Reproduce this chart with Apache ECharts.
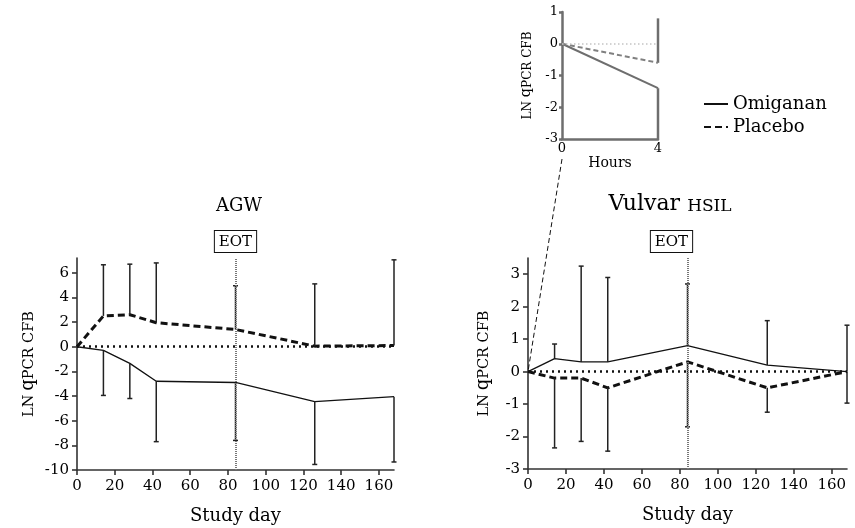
<!DOCTYPE html>
<html><head><meta charset="utf-8">
<script src="https://cdn.jsdelivr.net/npm/echarts@6/dist/echarts.min.js"></script>
<style>html,body{margin:0;padding:0;background:#fff}#c{width:855px;height:528px}</style>
</head><body><div id="c"></div>
<script>
// ---- data ----
const days = [0, 14, 28, 42, 84, 126, 168];
const xTicks = [0, 20, 40, 60, 80, 100, 120, 140, 160];
const agwTicks = [-10, -8, -6, -4, -2, 0, 2, 4, 6];
const vulTicks = [-3, -2, -1, 0, 1, 2, 3];
const agwOmi = [0, -0.3, -1.35, -2.8, -2.9, -4.45, -4.05];
const agwPla = [0, 2.5, 2.6, 1.95, 1.4, 0.05, 0.1];
const agwOmiLow = [null, -3.95, -4.2, -7.7, -7.6, -9.55, -9.35];
const agwPlaHigh = [null, 6.65, 6.7, 6.8, 4.95, 5.1, 7.05];
const vulOmi = [0, 0.4, 0.3, 0.3, 0.8, 0.2, 0];
const vulPla = [0, -0.2, -0.2, -0.5, 0.3, -0.5, 0];
const vulOmiHigh = [null, 0.85, 3.25, 2.9, 2.7, 1.57, 1.43];
const vulPlaLow = [null, -2.35, -2.15, -2.45, -1.7, -1.25, -0.97];
const hours = [0, 4];
const hourTicks = [0, 4];
const insetTicks = [-3, -2, -1, 0, 1];
const insetOmi = [0, -1.4];
const insetPla = [0, -0.6];
const insetOmiLow = [null, -3];
const insetPlaHigh = [null, 0.8];
const eotDay = 84;

const FONT = 'DejaVu Serif';
const TXT = '#000';
const pairs = (xs, ys) => xs.map((x, i) => [x, ys[i]]);
const errs = (xs, m, b) => xs.map((x, i) => [x, m[i], b[i]]).filter(d => d[2] !== null);

function errRender(color, width, cap) {
  return function (params, api) {
    const x = api.value(0), m = api.value(1), b = api.value(2);
    const p1 = api.coord([x, m]), p2 = api.coord([x, b]);
    const st = { stroke: color, lineWidth: width };
    const ch = [{ type: 'line', shape: { x1: p1[0], y1: p1[1], x2: p2[0], y2: p2[1] }, style: st }];
    if (cap) ch.push({ type: 'line', shape: { x1: p2[0] - cap, y1: p2[1], x2: p2[0] + cap, y2: p2[1] }, style: st });
    return { type: 'group', children: ch };
  };
}
function errSeries(xi, data, color, width, cap) {
  return { type: 'custom', xAxisIndex: xi, yAxisIndex: xi, data: data, renderItem: errRender(color, width, cap),
    encode: { x: 0, y: [1, 2] }, z: 4, silent: true, clip: false };
}

const AX = '#333';
function xAxis(gi, ticks, max, name, fs, nfs, gap, col, lw) {
  return { type: 'value', gridIndex: gi, min: 0, max: max, name: name, nameLocation: 'middle', nameGap: gap,
    nameTextStyle: { fontFamily: FONT, fontSize: nfs, color: TXT },
    axisLine: { onZero: false, lineStyle: { color: col, width: lw } },
    axisTick: { show: gi !== 2, length: 5, customValues: ticks, lineStyle: { color: col, width: lw } },
    axisLabel: { customValues: ticks, fontFamily: FONT, fontSize: fs, color: TXT, margin: gi === 2 ? 3 : 9 },
    splitLine: { show: false } };
}
function yAxis(gi, ticks, min, max, gap, cs, qs, col, lw, fs) {
  return { type: 'value', gridIndex: gi, min: min, max: max,
    name: '{c|LN} {q|q}{c|PCR CFB}', nameLocation: 'middle', nameGap: gap,
    nameTextStyle: { fontFamily: FONT, color: TXT, rich: {
      c: { fontFamily: FONT, fontSize: cs, color: TXT, verticalAlign: 'bottom' },
      q: { fontFamily: FONT, fontSize: qs, color: TXT, verticalAlign: 'bottom' } } },
    axisLine: { onZero: false, lineStyle: { color: col, width: lw } },
    axisTick: { length: gi === 2 ? 3 : 5, customValues: ticks, lineStyle: { color: col, width: lw } },
    axisLabel: { customValues: ticks, fontFamily: FONT, fontSize: fs, color: TXT, margin: gi === 2 ? 4 : 8 },
    splitLine: { show: false } };
}

const zeroLine = (col, w, dash) => ({ silent: true, symbol: 'none', label: { show: false },
  lineStyle: { color: col, width: w, type: dash }, data: [{ yAxis: 0 }] });
const eotLine = (off) => ({ silent: true, symbol: 'none',
  lineStyle: { color: '#777', width: 2, type: [1, 1] },
  label: { show: true, position: 'end', formatter: 'EOT', distance: 6, offset: off, fontFamily: FONT, fontSize: 15, color: TXT,
    borderColor: '#111', borderWidth: 1, padding: [4, 4, 2, 4], backgroundColor: '#fff' },
  data: [{ xAxis: eotDay }] });

const omiStyle = { color: '#111', width: 1.3 };
const plaStyle = { color: '#111', width: 3, type: [7, 4] };
const GREY = '#6e6e6e';

const option = {
  animation: false,
  textStyle: { fontFamily: FONT },
  title: [
    { text: '{c|AGW}', left: 234, top: 192, textAlign: 'center',
      textStyle: { fontWeight: 'normal', rich: { c: { fontFamily: FONT, fontSize: 18, fontWeight: 'normal', color: TXT } } } },
    { text: '{n|Vulvar }{c|HSIL}', left: 665, top: 188, textAlign: 'center',
      textStyle: { fontWeight: 'normal', rich: {
        n: { fontFamily: FONT, fontSize: 22, fontWeight: 'normal', color: TXT, verticalAlign: 'bottom' },
        c: { fontFamily: FONT, fontSize: 17, fontWeight: 'normal', color: TXT, verticalAlign: 'bottom' } } } }
  ],
  legend: { orient: 'vertical', left: 698, top: 90, itemWidth: 24, itemHeight: 14, itemGap: 5,
    itemStyle: { opacity: 0, borderWidth: 0 },
    data: ['Omiganan', 'Placebo'], textStyle: { fontFamily: FONT, fontSize: 18, color: TXT } },
  grid: [
    { left: 77, top: 258, width: 317, height: 212 },
    { left: 528, top: 258, width: 319, height: 211 },
    { left: 562, top: 12, width: 96, height: 127 }
  ],
  xAxis: [
    xAxis(0, xTicks, 168, 'Study day', 15, 18, 37, AX, 1.6),
    xAxis(1, xTicks, 168, 'Study day', 15, 18, 37, AX, 1.6),
    xAxis(2, hourTicks, 4, 'Hours', 13, 14, 14, GREY, 2.5)
  ],
  yAxis: [
    yAxis(0, agwTicks, -10, 7.2, 40, 14.5, 18, AX, 1.6, 15),
    yAxis(1, vulTicks, -3, 3.5, 36, 14.5, 18, AX, 1.6, 15),
    yAxis(2, insetTicks, -3, 1, 28, 12, 14.5, GREY, 2.5, 13)
  ],
  series: [
    { name: 'Omiganan', type: 'line', xAxisIndex: 0, yAxisIndex: 0, data: pairs(days, agwOmi), showSymbol: false, symbol: 'none',
      lineStyle: omiStyle, itemStyle: { color: '#111' }, z: 3, markLine: zeroLine('#111', 2.5, [2, 4]) },
    { name: 'Placebo', type: 'line', xAxisIndex: 0, yAxisIndex: 0, data: pairs(days, agwPla), showSymbol: false, symbol: 'none',
      lineStyle: plaStyle, itemStyle: { color: '#111' }, z: 3, markLine: eotLine([0, 0]) },
    errSeries(0, errs(days, agwOmi, agwOmiLow), '#222', 1.5, 2.5),
    errSeries(0, errs(days, agwPla, agwPlaHigh), '#222', 1.5, 2.5),
    { name: 'Omiganan', type: 'line', xAxisIndex: 1, yAxisIndex: 1, data: pairs(days, vulOmi), showSymbol: false, symbol: 'none',
      lineStyle: omiStyle, itemStyle: { color: '#111' }, z: 3, markLine: zeroLine('#111', 2.5, [2, 4]) },
    { name: 'Placebo', type: 'line', xAxisIndex: 1, yAxisIndex: 1, data: pairs(days, vulPla), showSymbol: false, symbol: 'none',
      lineStyle: plaStyle, itemStyle: { color: '#111' }, z: 3, markLine: eotLine([-16, 0]) },
    errSeries(1, errs(days, vulOmi, vulOmiHigh), '#222', 1.5, 2.5),
    errSeries(1, errs(days, vulPla, vulPlaLow), '#222', 1.5, 2.5),
    { name: 'inset-omi', type: 'line', xAxisIndex: 2, yAxisIndex: 2, data: pairs(hours, insetOmi), showSymbol: false, symbol: 'none',
      lineStyle: { color: GREY, width: 2 }, z: 3, markLine: zeroLine('#c4c4c4', 1.5, [1.5, 2.5]) },
    { name: 'inset-pla', type: 'line', xAxisIndex: 2, yAxisIndex: 2, data: pairs(hours, insetPla), showSymbol: false, symbol: 'none',
      lineStyle: { color: '#808080', width: 2, type: [5, 3] }, z: 4 },
    errSeries(2, errs(hours, insetOmi, insetOmiLow), GREY, 2.5, 0),
    errSeries(2, errs(hours, insetPla, insetPlaHigh), GREY, 2.5, 0)
  ]
};
const chart = echarts.init(document.getElementById('c'), null, { renderer: 'canvas' });
chart.setOption(option);
// connector from inset origin to the right panel origin
const a = chart.convertToPixel({ gridIndex: 2 }, [0, -3]);
const b = chart.convertToPixel({ gridIndex: 1 }, [0, 0]);
chart.setOption({ graphic: [{ type: 'line', silent: true, z: 1,
  shape: { x1: a[0], y1: a[1] + 20, x2: b[0], y2: b[1] },
  style: { stroke: '#111', lineWidth: 1, lineDash: [5, 3] } }] });
</script></body></html>
